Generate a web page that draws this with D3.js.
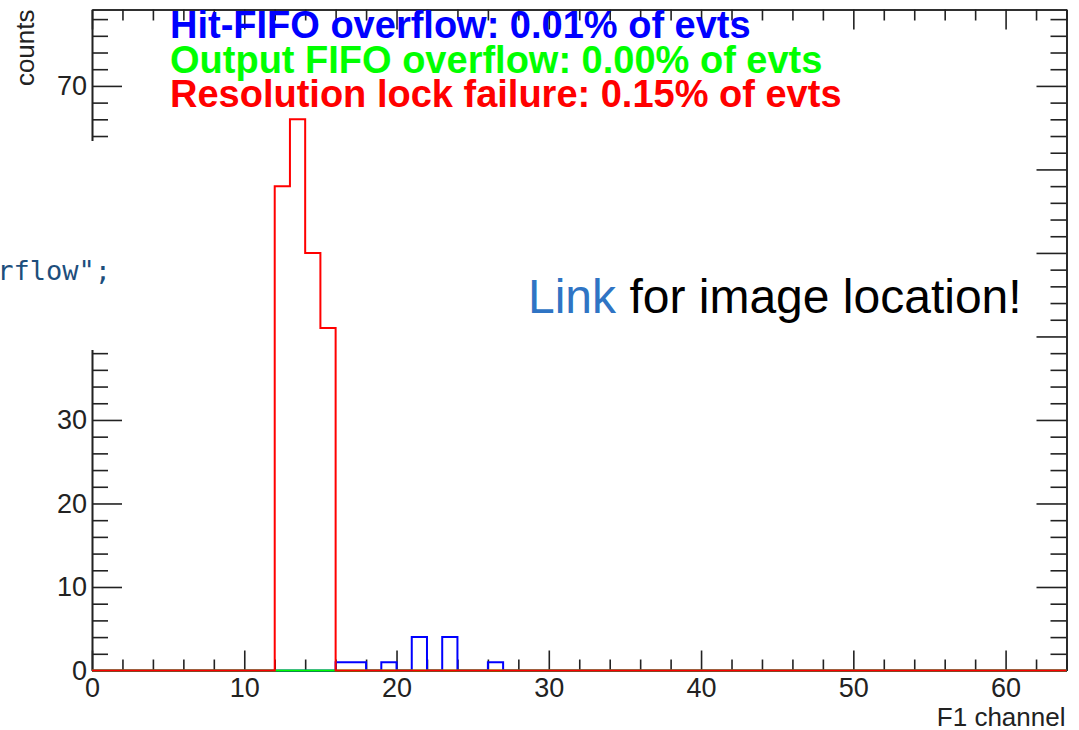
<!DOCTYPE html>
<html>
<head>
<meta charset="utf-8">
<script src="https://cdn.jsdelivr.net/npm/d3@7"></script>
<style>
  body { margin: 0; background: #fff; }
  svg { display: block; }
</style>
</head>
<body>
<div id="chart"></div>
<script>
// histogram contents (only non-empty channels listed)
const nChannels = 64;
const hitFifoChannels = [16, 17, 19, 21, 23, 26];
const hitFifoCounts   = [1, 1, 1, 4, 4, 1];
const outFifoChannels = [];
const outFifoCounts   = [];
const resLockChannels = [12, 13, 14, 15];
const resLockCounts   = [58, 66, 50, 41];

const legendLines = [
  { text: "Hit-FIFO overflow: 0.01% of evts", color: "#0000ff" },
  { text: "Output FIFO overflow: 0.00% of evts", color: "#00ff00" },
  { text: "Resolution lock failure: 0.15% of evts", color: "#ff0000" }
];
const xMajor = [0, 10, 20, 30, 40, 50, 60];
const yMajor = [0, 10, 20, 30, 40, 50, 60, 70];

const W = 1079, H = 730;
const margin = { top: 9.5, right: 12.5, bottom: 59.5, left: 92 };

const svg = d3.select("#chart").append("svg")
  .attr("width", W).attr("height", H);

const x = d3.scaleLinear().domain([0, nChannels]).range([margin.left, W - margin.right]);
const y = d3.scaleLinear().domain([0, 79.15]).range([H - margin.bottom, margin.top]);

// fill full bins from the sparse lists
function fullBins(chs, cnts) {
  const bins = new Array(nChannels).fill(0);
  chs.forEach((c, i) => { bins[c] = cnts[i]; });
  return bins;
}

function stepPoints(bins) {
  const pts = bins.map((v, i) => [i, v]);
  pts.push([nChannels, bins[nChannels - 1]]);
  return pts;
}

const line = d3.line()
  .x(d => x(d[0]))
  .y(d => y(d[1]))
  .curve(d3.curveStepAfter);

const hists = [
  { bins: fullBins(hitFifoChannels, hitFifoCounts), color: "#0000ff" },
  { bins: fullBins(outFifoChannels, outFifoCounts), color: "#00ff00" },
  { bins: fullBins(resLockChannels, resLockCounts), color: "#ff0000" }
];

// axes (ROOT style: ticks point inward, frame all around)
const fontFam = "'Liberation Sans', Arial, sans-serif";
const xMinor = d3.range(0, nChannels + 1, 2).filter(v => v % 10 !== 0);
const yMinor = d3.range(0, 80, 2).filter(v => v % 10 !== 0);

function styleAxis(g) {
  g.selectAll("path, line").attr("stroke", "#222").attr("stroke-width", 1.6);
  g.selectAll("text").attr("font-family", fontFam).attr("font-size", 27).attr("fill", "#222");
}

const bottomY = y(0), topY = y.range()[1];
const leftX = x(0), rightX = x(nChannels);

svg.append("g").attr("transform", `translate(0,${bottomY})`)
  .call(d3.axisBottom(x).tickValues(xMajor).tickSize(-20).tickSizeOuter(0).tickPadding(7).tickFormat(d3.format("d")))
  .call(styleAxis);
svg.append("g").attr("transform", `translate(0,${bottomY})`)
  .call(d3.axisBottom(x).tickValues(xMinor).tickSize(-11).tickSizeOuter(0).tickFormat(""))
  .call(styleAxis);

svg.append("g").attr("transform", `translate(0,${topY})`)
  .call(d3.axisTop(x).tickValues(xMajor).tickSize(-20).tickSizeOuter(0).tickFormat(""))
  .call(styleAxis);
svg.append("g").attr("transform", `translate(0,${topY})`)
  .call(d3.axisTop(x).tickValues(xMinor).tickSize(-11).tickSizeOuter(0).tickFormat(""))
  .call(styleAxis);

svg.append("g").attr("transform", `translate(${leftX},0)`)
  .call(d3.axisLeft(y).tickValues(yMajor).tickSize(-30).tickSizeOuter(0).tickPadding(5).tickFormat(d3.format("d")))
  .call(styleAxis);
svg.append("g").attr("transform", `translate(${leftX},0)`)
  .call(d3.axisLeft(y).tickValues(yMinor).tickSize(-16).tickSizeOuter(0).tickFormat(""))
  .call(styleAxis);

svg.append("g").attr("transform", `translate(${rightX},0)`)
  .call(d3.axisRight(y).tickValues(yMajor).tickSize(-30).tickSizeOuter(0).tickFormat(""))
  .call(styleAxis);
svg.append("g").attr("transform", `translate(${rightX},0)`)
  .call(d3.axisRight(y).tickValues(yMinor).tickSize(-16).tickSizeOuter(0).tickFormat(""))
  .call(styleAxis);

// histograms drawn over the frame, like ROOT does
hists.forEach(h => {
  svg.append("path")
    .attr("d", line(stepPoints(h.bins)))
    .attr("fill", "none")
    .attr("stroke", h.color)
    .attr("stroke-width", 2);
});

// axis titles
svg.append("text")
  .text("F1 channel")
  .attr("x", rightX - 1).attr("y", 726)
  .attr("text-anchor", "end")
  .attr("font-family", fontFam).attr("font-size", 26).attr("fill", "#222");

svg.append("text")
  .text("counts")
  .attr("transform", `translate(34,${topY}) rotate(-90)`)
  .attr("text-anchor", "end")
  .attr("font-family", fontFam).attr("font-size", 26).attr("fill", "#222");

// legend-ish text block
legendLines.forEach((l, i) => {
  svg.append("text")
    .text(l.text)
    .attr("x", 170).attr("y", 38 + i * 34.5)
    .attr("font-family", fontFam).attr("font-size", 38)
    .attr("font-weight", "bold").attr("fill", l.color);
});

// pasted overlay (covers part of the left axis)
svg.append("rect")
  .attr("x", 0).attr("y", 141).attr("width", 135).attr("height", 209)
  .attr("fill", "#fff");
svg.append("text")
  .attr("x", 111).attr("y", 280)
  .attr("text-anchor", "end")
  .attr("font-family", "'DejaVu Sans Mono', monospace").attr("font-size", 27)
  .attr("fill", "#1d4e7c")
  .text('rflow";');

const link = svg.append("text")
  .attr("x", 528).attr("y", 313)
  .attr("font-family", "'Liberation Sans', Arial, sans-serif").attr("font-size", 48);
link.append("tspan").attr("fill", "#2f74c4").text("Link");
link.append("tspan").attr("fill", "#000").text(" for image location!");
</script>
</body>
</html>
